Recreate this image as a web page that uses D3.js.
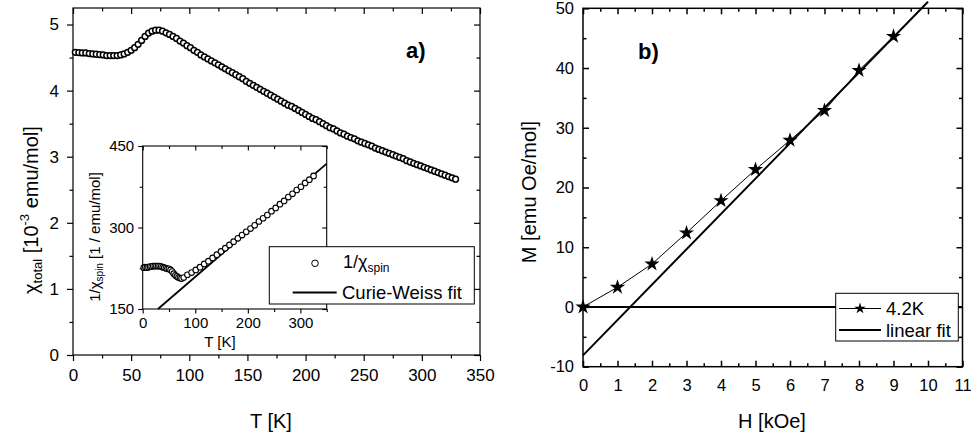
<!DOCTYPE html>
<html>
<head>
<meta charset="utf-8">
<script src="https://cdn.jsdelivr.net/npm/d3@7"></script>
<style>
body { margin: 0; background: #fff; }
svg { font-family: "Liberation Sans", Arial, sans-serif; }
</style>
</head>
<body>
<svg id="chart" width="971" height="439"></svg>
<script>
// panel a: chi_total vs T
var tempA = [2,5,8,11,14,17,20,23,26,29,32,35,38,41,44,47,50,53,56,59,62,65,68,71,74,77,80,83,86,89,
  92,95,98,101,104,107,110,113,116,119,122,125,128,131,134,137,140,143,146,149,152,155,158,161,164,167,170,173,176,179,
  182,185,188,191,194,197,200,203,206,209,212,215,218,221,224,227,230,233,236,239,242,245,248,251,254,257,260,263,266,269,
  272,275,278,281,284,287,290,293,296,299,302,305,308,311,314,317,320,323,326,329];
var chiTotal = [4.58,4.575,4.57,4.57,4.56,4.555,4.55,4.545,4.54,4.53,4.53,4.53,4.53,4.54,4.555,4.58,4.61,4.65,4.70,4.76,4.82,4.87,4.90,4.915,4.915,4.90,4.875,4.85,4.82,4.79,
  4.75,4.72,4.68,4.65,4.61,4.58,4.54,4.51,4.48,4.45,4.42,4.39,4.36,4.33,4.30,4.27,4.24,4.21,4.18,4.14,4.11,4.08,4.05,4.02,3.99,3.96,3.93,3.90,3.87,3.84,
  3.81,3.78,3.76,3.73,3.70,3.67,3.64,3.61,3.58,3.56,3.53,3.50,3.47,3.44,3.42,3.39,3.36,3.34,3.31,3.29,3.27,3.24,3.22,3.20,3.18,3.16,3.13,3.11,3.09,3.07,
  3.05,3.03,3.01,2.99,2.97,2.94,2.92,2.90,2.88,2.86,2.84,2.82,2.80,2.78,2.76,2.74,2.72,2.70,2.68,2.66];

// inset: 1/chi_spin vs T
var tempIn = [2,5,8,11,14,17,20,23,26,29,32,35,38,41,44,47,50,53,56,59,62,65,68,71,74,78,85,93,101,109,
  117,125,133,141,149,157,165,173,181,189,197,205,213,221,229,237,245,253,261,269,277,285,293,301,309,317,325];
var invChi = [226,227,226,227,228,228,229,229,229,229,229,228,227,226,225,224,224,222,219,215,212,210,208,207,206,208,213,217,222,227,
  233,238,244,250,256,262,268,274,280,286,292,298,304,311,317,323,330,336,343,349,356,362,369,375,382,388,395];
var cwT = [29, 350];
var cwVal = [150, 417.5];

// panel b: M vs H at 4.2 K
var fieldH = [0,1,2,3,4,5,6,7,8,9];
var magM = [0,3.3,7.2,12.4,17.8,23.0,27.9,32.9,39.6,45.3];
var fitH = [0, 10];
var fitM = [-8.1, 51.1];

var svg = d3.select("#chart");

function drawFrame(g, x, y, o) {
  var x0 = x.range()[0], x1 = x.range()[1];
  var y0 = y.range()[0], y1 = y.range()[1];
  var d = o.out ? 1 : -1;
  var fmt = function(v) { return String(v); };

  var gb = g.append("g").attr("transform", "translate(0," + y0 + ")");
  gb.append("g").call(d3.axisBottom(x).tickValues(o.xMinor).tickSize(d * o.small).tickSizeOuter(0).tickFormat(""));
  gb.append("g").call(d3.axisBottom(x).tickValues(o.xMajor).tickSize(d * o.big).tickSizeOuter(0).tickPadding(o.xPad).tickFormat(fmt));

  var gt = g.append("g").attr("transform", "translate(0," + y1 + ")");
  gt.append("g").call(d3.axisTop(x).tickValues(o.xMinor).tickSize(-o.small).tickSizeOuter(0).tickFormat(""));
  gt.append("g").call(d3.axisTop(x).tickValues(o.xMajor).tickSize(-o.big).tickSizeOuter(0).tickFormat(""));

  var gl = g.append("g").attr("transform", "translate(" + x0 + ",0)");
  gl.append("g").call(d3.axisLeft(y).tickValues(o.yMinor).tickSize(d * o.small).tickSizeOuter(0).tickFormat(""));
  gl.append("g").call(d3.axisLeft(y).tickValues(o.yMajor).tickSize(d * o.big).tickSizeOuter(0).tickPadding(o.yPad).tickFormat(fmt));

  var gr = g.append("g").attr("transform", "translate(" + x1 + ",0)");
  gr.append("g").call(d3.axisRight(y).tickValues(o.yMinor).tickSize(-o.small).tickSizeOuter(0).tickFormat(""));
  gr.append("g").call(d3.axisRight(y).tickValues(o.yMajor).tickSize(-o.big).tickSizeOuter(0).tickFormat(""));

  g.selectAll(".domain").remove();
  g.selectAll(".tick line").attr("stroke", "#000").attr("stroke-width", o.sw);
  g.selectAll(".tick text").attr("fill", "#000");
  g.selectAll("g").attr("font-family", null).attr("font-size", o.fs);

  g.append("rect")
    .attr("x", x0).attr("y", y1)
    .attr("width", x1 - x0).attr("height", y0 - y1)
    .attr("fill", "none").attr("stroke", "#000").attr("stroke-width", o.sw);
}

// ---------- panel a ----------
var xa = d3.scaleLinear().domain([0, 350]).range([73, 480]);
var ya = d3.scaleLinear().domain([0, 5.25]).range([355, 8]);
var ga = svg.append("g");

drawFrame(ga, xa, ya, {
  out: true, big: 6, small: 3.5, sw: 1.2, fs: 17, xPad: 8, yPad: 8,
  xMajor: d3.range(0, 351, 50), xMinor: d3.range(25, 350, 50),
  yMajor: [0, 1, 2, 3, 4, 5], yMinor: [0.5, 1.5, 2.5, 3.5, 4.5]
});

ga.append("g").selectAll("circle")
  .data(tempA.map(function(t, i) { return [t, chiTotal[i]]; }))
  .join("circle")
  .attr("cx", function(d) { return xa(d[0]); })
  .attr("cy", function(d) { return ya(d[1]); })
  .attr("r", 2.9)
  .attr("fill", "#fff").attr("stroke", "#000").attr("stroke-width", 1.5);

ga.append("text").attr("x", 406).attr("y", 58)
  .attr("font-size", 22).attr("font-weight", "bold").text("a)");

var ylabA = ga.append("text")
  .attr("transform", "translate(38,210) rotate(-90)")
  .attr("text-anchor", "middle").attr("font-size", 20);
ylabA.append("tspan").text("χ");
ylabA.append("tspan").attr("font-size", 13).attr("dy", 4).text("total");
ylabA.append("tspan").attr("dy", -4).text(" [10");
ylabA.append("tspan").attr("font-size", 13).attr("dy", -9).text("-3");
ylabA.append("tspan").attr("dy", 9).text(" emu/mol]");

ga.append("text").attr("x", 271).attr("y", 428)
  .attr("text-anchor", "middle").attr("font-size", 20).text("T [K]");

// inset
var xi = d3.scaleLinear().domain([0, 350]).range([142.7, 326.7]);
var yi = d3.scaleLinear().domain([150, 450]).range([309, 146]);
var gi = svg.append("g");
gi.append("rect").attr("x", 142.7).attr("y", 146).attr("width", 184).attr("height", 163).attr("fill", "#fff");

drawFrame(gi, xi, yi, {
  out: true, big: 4.5, small: 3, sw: 1.1, fs: 15, xPad: 4, yPad: 4,
  xMajor: [0, 100, 200, 300], xMinor: [50, 150, 250, 350],
  yMajor: [150, 300, 450], yMinor: [225, 375]
});

gi.append("line")
  .attr("x1", xi(cwT[0])).attr("y1", yi(cwVal[0]))
  .attr("x2", xi(cwT[1])).attr("y2", yi(cwVal[1]))
  .attr("stroke", "#000").attr("stroke-width", 1.8);

gi.append("g").selectAll("circle")
  .data(tempIn.map(function(t, i) { return [t, invChi[i]]; }))
  .join("circle")
  .attr("cx", function(d) { return xi(d[0]); })
  .attr("cy", function(d) { return yi(d[1]); })
  .attr("r", 2.8)
  .attr("fill", "#fff").attr("stroke", "#000").attr("stroke-width", 1.1);

gi.append("text").attr("x", 220).attr("y", 347)
  .attr("text-anchor", "middle").attr("font-size", 15).text("T [K]");

var ylabI = gi.append("text")
  .attr("transform", "translate(100,237) rotate(-90)")
  .attr("text-anchor", "middle").attr("font-size", 15);
ylabI.append("tspan").text("1/χ");
ylabI.append("tspan").attr("font-size", 10).attr("dy", 3).text("spin");
ylabI.append("tspan").attr("dy", -3).text(" [1 / emu/mol]");

// legend a
var la = svg.append("g");
la.append("rect").attr("x", 269.3).attr("y", 246.7).attr("width", 205).attr("height", 57.3)
  .attr("fill", "#fff").attr("stroke", "#000").attr("stroke-width", 1);
la.append("circle").attr("cx", 315).attr("cy", 263.3).attr("r", 3.3)
  .attr("fill", "#fff").attr("stroke", "#000").attr("stroke-width", 1);
var lt1 = la.append("text").attr("x", 343).attr("y", 268).attr("font-size", 18);
lt1.append("tspan").text("1/χ");
lt1.append("tspan").attr("font-size", 12).attr("dy", 4).text("spin");
la.append("line").attr("x1", 292.7).attr("x2", 336.7).attr("y1", 292.5).attr("y2", 292.5)
  .attr("stroke", "#000").attr("stroke-width", 2);
la.append("text").attr("x", 342).attr("y", 299).attr("font-size", 18.5).text("Curie-Weiss fit");

// ---------- panel b ----------
var xb = d3.scaleLinear().domain([0, 11]).range([583, 962.5]);
var yb = d3.scaleLinear().domain([-10, 50]).range([366.7, 8.3]);
var gB = svg.append("g");

drawFrame(gB, xb, yb, {
  out: false, big: 6, small: 3.5, sw: 1.5, fs: 16.5, xPad: 13, yPad: 9,
  xMajor: d3.range(0, 12), xMinor: d3.range(0.5, 11, 1),
  yMajor: [-10, 0, 10, 20, 30, 40, 50], yMinor: [-5, 5, 15, 25, 35, 45]
});

gB.append("line")
  .attr("x1", xb(0)).attr("x2", xb(11)).attr("y1", yb(0)).attr("y2", yb(0))
  .attr("stroke", "#000").attr("stroke-width", 2);

gB.append("line")
  .attr("x1", xb(fitH[0])).attr("y1", yb(fitM[0]))
  .attr("x2", xb(fitH[1])).attr("y2", yb(fitM[1]))
  .attr("stroke", "#000").attr("stroke-width", 2);

var pts = fieldH.map(function(h, i) { return [h, magM[i]]; });
gB.append("path")
  .attr("d", d3.line().x(function(d) { return xb(d[0]); }).y(function(d) { return yb(d[1]); })(pts))
  .attr("fill", "none").attr("stroke", "#000").attr("stroke-width", 1);

var star = d3.symbol().type(d3.symbolStar);
gB.append("g").selectAll("path")
  .data(pts)
  .join("path")
  .attr("transform", function(d) { return "translate(" + xb(d[0]) + "," + yb(d[1]) + ")"; })
  .attr("d", star.size(72)())
  .attr("fill", "#000");

gB.append("text").attr("x", 638).attr("y", 59)
  .attr("font-size", 22).attr("font-weight", "bold").text("b)");

gB.append("text")
  .attr("transform", "translate(536,192) rotate(-90)")
  .attr("text-anchor", "middle").attr("font-size", 20).text("M [emu Oe/mol]");

gB.append("text").attr("x", 772).attr("y", 428)
  .attr("text-anchor", "middle").attr("font-size", 20).text("H [kOe]");

// legend b
var lb = svg.append("g");
lb.append("rect").attr("x", 835.7).attr("y", 293.3).attr("width", 122.6).attr("height", 47.7)
  .attr("fill", "#fff").attr("stroke", "#000").attr("stroke-width", 1);
lb.append("line").attr("x1", 839).attr("x2", 881).attr("y1", 308.5).attr("y2", 308.5)
  .attr("stroke", "#000").attr("stroke-width", 1);
lb.append("path").attr("transform", "translate(860,308.5)").attr("d", star.size(40)()).attr("fill", "#000");
lb.append("text").attr("x", 886).attr("y", 315).attr("font-size", 18.5).text("4.2K");
lb.append("line").attr("x1", 839).attr("x2", 881).attr("y1", 330).attr("y2", 330)
  .attr("stroke", "#000").attr("stroke-width", 2);
lb.append("text").attr("x", 886).attr("y", 336.5).attr("font-size", 18.5).text("linear fit");
</script>
</body>
</html>
